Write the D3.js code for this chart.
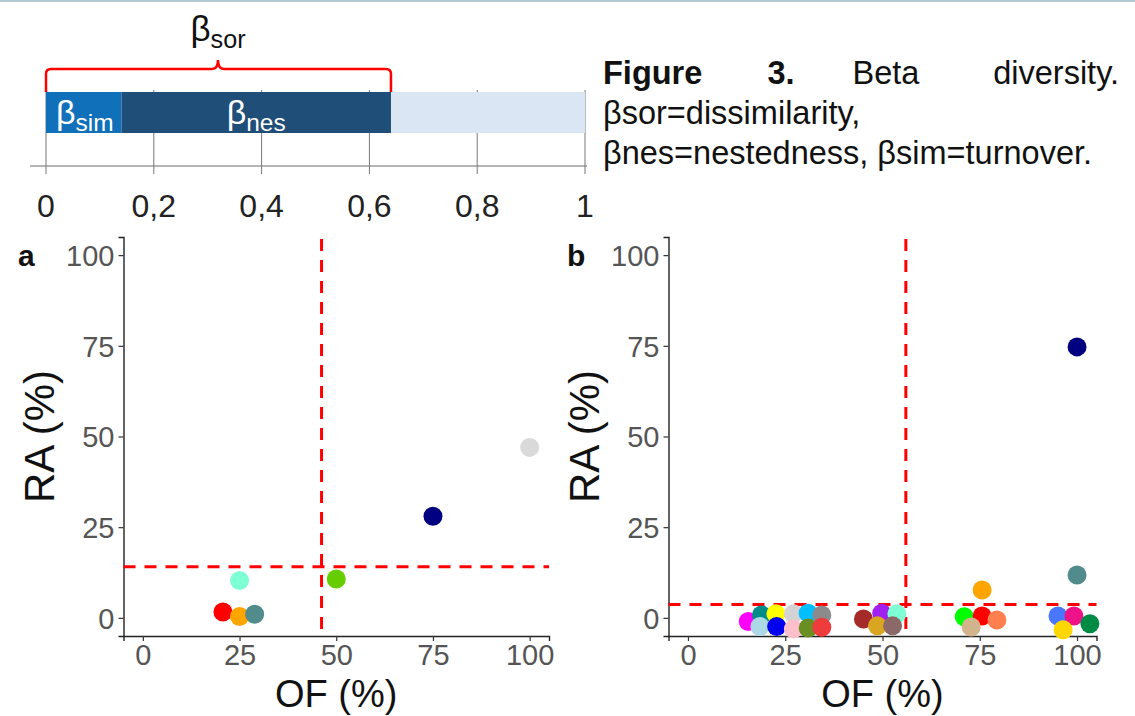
<!DOCTYPE html>
<html lang="en">
<head>
<meta charset="UTF-8">
<title>Beta diversity</title>
<script src="https://cdn.jsdelivr.net/npm/d3@7/dist/d3.min.js"></script>
<style>
  body { margin: 0; background: #fff; }
  svg { font-family: "Liberation Sans", Arial, sans-serif; display: block; }
</style>
</head>
<body>
<svg id="main" width="1135" height="716"></svg>
<script>
    // top bar: partition of beta diversity
    const betaSim = 0.14;
    const betaNes = 0.50;
    const barTicks = [0, 0.2, 0.4, 0.6, 0.8, 1];

    // panel a
    const aOF = [75, 100, 25, 50, 20.7, 25, 28.9];
    const aRA = [28, 47, 10.3, 10.7, 1.6, 0.4, 1];
    const aColors = ['#000080', '#d9d9d9', '#7fffd4', '#66cd00', '#ff0000', '#ffa500', '#528b8b'];
    const aCutOF = 46.2, aCutRA = 14.1;

    // panel b
    const bOF = [100, 100, 75.6, 71, 75.6, 72.8, 79.4, 95.1, 99.2, 96.4, 103.3,
        15.5, 18.9, 18.5, 22.6, 22.8, 27.1, 27.1, 30.9, 30.9, 34.4, 34.4,
        45.1, 49.8, 53.7, 48.7, 52.6];
    const bRA = [74.7, 11.8, 7.7, 0.3, 0.5, -2.5, -0.6, 0.5, 0.5, -3.3, -1.6,
        -1, 0.8, -2.4, 1.1, -2.4, 1.1, -3.1, 1.3, -2.8, 0.8, -2.6,
        -0.3, 1.3, 1.1, -2.2, -2.2];
    const bColors = ['#000080', '#528b8b', '#ffa500', '#00ff00', '#ff0000', '#d2b48c', '#ff7f50', '#4876ff', '#ee1289', '#ffd700', '#008b45',
        '#ff00ff', '#008b8b', '#add8e6', '#ffff00', '#0000ee', '#d3d3d3', '#ffc0cb', '#00bfff', '#6b8e23', '#8b8b8b', '#ee3b3b',
        '#a52a2a', '#a020f0', '#7fffd4', '#daa520', '#8b6969'];
    const bCutOF = 56, bCutRA = 3.7;

    const axisTicks = [0, 25, 50, 75, 100];

    let svg = d3.select('svg#main');

    // thin rule at the very top of the page
    svg.append('rect').attr('x', 0).attr('y', 0).attr('width', 1135).attr('height', 2).attr('fill', '#b4c8d4');

    // ---------- top bar ----------
    let bx = d3.scaleLinear().domain([0, 1]).range([46, 585]);
    let barTop = 92, barH = 41;

    svg.append('line').attr('x1', 30).attr('x2', bx(1) + 2).attr('y1', 166).attr('y2', 166)
        .attr('stroke', '#6d6d6d').attr('stroke-width', 1.2);
    svg.selectAll('.btick').data(barTicks).enter().append('line')
        .attr('x1', d => bx(d)).attr('x2', d => bx(d))
        .attr('y1', barTop - 2).attr('y2', 174)
        .attr('stroke', '#777').attr('stroke-width', 1);

    let segs = [
        {x0: betaSim + betaNes, x1: 1, fill: '#dae6f4'},
        {x0: 0, x1: betaSim, fill: '#1170ba'},
        {x0: betaSim, x1: betaSim + betaNes, fill: '#1f4e79'}
    ];
    svg.selectAll('.seg').data(segs).enter().append('rect')
        .attr('x', d => bx(d.x0)).attr('width', d => bx(d.x1) - bx(d.x0))
        .attr('y', barTop).attr('height', barH).attr('fill', d => d.fill);

    function beta(x, y, sub, size, color) {
        let t = svg.append('text').attr('x', x).attr('y', y).attr('fill', color)
            .attr('font-size', size).attr('text-anchor', 'middle');
        t.append('tspan').text('β');
        t.append('tspan').text(sub).attr('font-size', size * 0.72).attr('dy', size * 0.2);
    }
    beta(bx(betaSim / 2) + 1, 124, 'sim', 34, '#fff');
    beta(bx(betaSim + betaNes / 2), 124, 'nes', 34, '#fff');
    beta(218, 41, 'sor', 35, '#111');

    svg.selectAll('.blabel').data(barTicks).enter().append('text')
        .attr('x', d => bx(d)).attr('y', 217)
        .attr('text-anchor', 'middle').attr('font-size', 32).attr('fill', '#222')
        .text(d => d === 0 || d === 1 ? d : String(d).replace('.', ','));

    // red brace over beta sor
    let L = bx(0), R = bx(betaSim + betaNes), M = 218;
    svg.append('path')
        .attr('d', `M${L},${barTop} L${L},74 Q${L},69 ${L + 5},69 L${M - 6},69 Q${M},69 ${M},60 Q${M},69 ${M + 6},69 L${R - 5},69 Q${R},69 ${R},74 L${R},${barTop}`)
        .attr('fill', 'none').attr('stroke', '#ff0000').attr('stroke-width', 2.5);

    // caption
    let cap = svg.append('g').attr('font-size', 32.5).attr('fill', '#111');
    let line1 = [['Figure', 603, 'start', 'bold'], ['3.', 781, 'middle', 'bold'], ['Beta', 886, 'middle', 'normal'], ['diversity.', 1119, 'end', 'normal']];
    line1.forEach(w => cap.append('text').attr('x', w[1]).attr('y', 84).attr('text-anchor', w[2])
        .attr('font-weight', w[3]).text(w[0]));
    cap.append('text').attr('x', 603).attr('y', 124).text('βsor=dissimilarity,');
    cap.append('text').attr('x', 603).attr('y', 164).text('βnes=nestedness, βsim=turnover.');

    // ---------- scatter panels ----------
    function panel(opt) {
        let x = d3.scaleLinear().domain([-5, 105]).range([opt.left, opt.right]);
        let y = d3.scaleLinear().domain([-5, 105]).range([636, 237]);
        let g = svg.append('g');

        let xAxis = g.append('g').attr('transform', 'translate(0,636)')
            .call(d3.axisBottom(x).tickValues(axisTicks).tickSize(5).tickPadding(3));
        let yAxis = g.append('g').attr('transform', `translate(${opt.left},0)`)
            .call(d3.axisLeft(y).tickValues(axisTicks).tickSize(5).tickPadding(4));
        [xAxis, yAxis].forEach(a => {
            a.select('.domain').attr('stroke', '#222').attr('stroke-width', 1.4);
            a.selectAll('.tick line').attr('stroke', '#333').attr('stroke-width', 1.2);
            a.selectAll('.tick text').attr('fill', '#555').attr('font-size', 29)
                .attr('font-family', '"Liberation Sans", Arial, sans-serif');
        });
        yAxis.selectAll('.tick text').attr('dy', '0.36em');

        g.append('line').attr('x1', x(opt.cutOF)).attr('x2', x(opt.cutOF)).attr('y1', 239).attr('y2', 636)
            .attr('stroke', '#ff0000').attr('stroke-width', 3).attr('stroke-dasharray', '12,9');
        g.append('line').attr('x1', opt.left).attr('x2', opt.right).attr('y1', y(opt.cutRA)).attr('y2', y(opt.cutRA))
            .attr('stroke', '#ff0000').attr('stroke-width', 3).attr('stroke-dasharray', '12,9');

        g.selectAll('circle').data(opt.of).enter().append('circle')
            .attr('cx', d => x(d)).attr('cy', (d, i) => y(opt.ra[i]))
            .attr('r', 9.5).attr('fill', (d, i) => opt.colors[i]);

        g.append('text').attr('x', (x(0) + x(100)) / 2).attr('y', 707).attr('text-anchor', 'middle')
            .attr('font-size', 38).attr('fill', '#111').text('OF (%)');
        g.append('text').attr('transform', `translate(${opt.left - 70},${y(50)}) rotate(-90)`)
            .attr('text-anchor', 'middle').attr('font-size', 42).attr('fill', '#111').text('RA (%)');
        g.append('text').attr('x', opt.tagX).attr('y', 266).attr('font-size', 30).attr('font-weight', 'bold')
            .attr('fill', '#111').text(opt.tag);
    }

    panel({left: 123.5, right: 549, of: aOF, ra: aRA, colors: aColors, cutOF: aCutOF, cutRA: aCutRA, tag: 'a', tagX: 18});
    panel({left: 668.5, right: 1096.5, of: bOF, ra: bRA, colors: bColors, cutOF: bCutOF, cutRA: bCutRA, tag: 'b', tagX: 567});
</script>
</body>
</html>
